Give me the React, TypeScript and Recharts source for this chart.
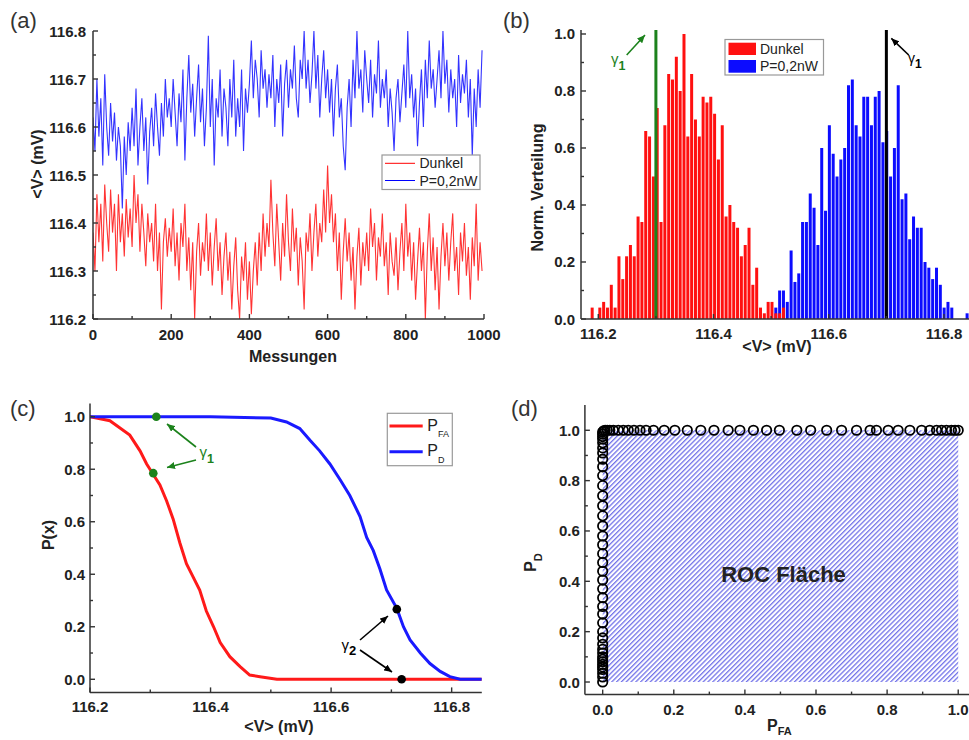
import {
  LineChart,
  Line,
  BarChart,
  Bar,
  ComposedChart,
  Scatter,
  Area,
  XAxis,
  YAxis,
  ReferenceLine,
} from 'recharts'

const FONT = '"Liberation Sans", Arial, sans-serif'
const AXIS = '#333'
const INK = '#222'
const GREEN = '#1c821c'
const RED = '#ff0000'
const BLUE = '#0000ff'

// (a) measurements, every 5th of the 1000 readings
const dunkel = [
  116.38, 116.30, 116.46, 116.36, 116.44, 116.32, 116.48, 116.40, 116.34, 116.47,
  116.38, 116.44, 116.30, 116.46, 116.36, 116.42, 116.33, 116.45, 116.37, 116.43,
  116.35, 116.50, 116.40, 116.46, 116.34, 116.44, 116.38, 116.31, 116.42, 116.36,
  116.40, 116.32, 116.44, 116.30, 116.38, 116.22, 116.36, 116.41, 116.33, 116.39,
  116.34, 116.43, 116.31, 116.38, 116.28, 116.40, 116.35, 116.44, 116.30, 116.37,
  116.26, 116.36, 116.20, 116.34, 116.40, 116.29, 116.36, 116.32, 116.42, 116.30,
  116.38, 116.27, 116.35, 116.41, 116.30, 116.36, 116.25, 116.33, 116.38, 116.28,
  116.34, 116.22, 116.31, 116.37, 116.26, 116.20, 116.33, 116.28, 116.36, 116.24,
  116.32, 116.21, 116.30, 116.36, 116.27, 116.38, 116.30, 116.42, 116.33, 116.40,
  116.35, 116.49, 116.38, 116.31, 116.44, 116.36, 116.28, 116.40, 116.33, 116.46,
  116.36, 116.30, 116.43, 116.34, 116.39, 116.27, 116.37, 116.32, 116.22, 116.38,
  116.34, 116.42, 116.30, 116.38, 116.44, 116.33, 116.40, 116.36, 116.47, 116.38,
  116.52, 116.40, 116.46, 116.36, 116.42, 116.30, 116.38, 116.24, 116.34, 116.41,
  116.32, 116.38, 116.28, 116.35, 116.22, 116.33, 116.39, 116.27, 116.36, 116.31,
  116.38, 116.30, 116.43, 116.35, 116.40, 116.28, 116.37, 116.33, 116.42, 116.31,
  116.36, 116.25, 116.38, 116.32, 116.29, 116.37, 116.26, 116.34, 116.40, 116.30,
  116.44, 116.33, 116.38, 116.28, 116.36, 116.24, 116.32, 116.39, 116.30, 116.36,
  116.20, 116.34, 116.42, 116.30, 116.37, 116.26, 116.35, 116.22, 116.33, 116.40,
  116.31, 116.38, 116.28, 116.36, 116.42, 116.30, 116.35, 116.25, 116.38, 116.32,
  116.40, 116.29, 116.35, 116.24, 116.37, 116.31, 116.44, 116.28, 116.36, 116.30,
]
const beleuchtet = [
  116.62, 116.55, 116.70, 116.58, 116.66, 116.52, 116.71, 116.60, 116.54, 116.65,
  116.57, 116.63, 116.53, 116.60, 116.56, 116.43, 116.58, 116.50, 116.61, 116.55,
  116.64, 116.56, 116.68, 116.52, 116.60, 116.66, 116.55, 116.62, 116.48, 116.59,
  116.64, 116.56, 116.67, 116.60, 116.54, 116.65, 116.58, 116.70, 116.62, 116.66,
  116.60, 116.70, 116.63, 116.56, 116.67, 116.61, 116.72, 116.53, 116.66, 116.75,
  116.63, 116.69, 116.58, 116.66, 116.73, 116.61, 116.68, 116.56, 116.64, 116.79,
  116.60, 116.70, 116.52, 116.66, 116.62, 116.72, 116.58, 116.68, 116.64, 116.56,
  116.70, 116.62, 116.74, 116.58, 116.66, 116.60, 116.72, 116.55, 116.68, 116.63,
  116.69, 116.78, 116.66, 116.74, 116.70, 116.62, 116.76, 116.68, 116.72, 116.64,
  116.71, 116.66, 116.75, 116.60, 116.70, 116.65, 116.73, 116.58, 116.69, 116.74,
  116.64, 116.72, 116.68, 116.77, 116.66, 116.62, 116.74, 116.70, 116.80, 116.68,
  116.74, 116.65, 116.71, 116.80, 116.68, 116.75, 116.62, 116.70, 116.76, 116.66,
  116.72, 116.63, 116.70, 116.58, 116.68, 116.73, 116.62, 116.66, 116.56, 116.51,
  116.64, 116.70, 116.60, 116.74, 116.66, 116.80, 116.68, 116.72, 116.63, 116.76,
  116.70, 116.65, 116.74, 116.62, 116.71, 116.67, 116.78, 116.64, 116.70, 116.66,
  116.72, 116.60, 116.68, 116.63, 116.55, 116.66, 116.70, 116.61, 116.67, 116.73,
  116.64, 116.80, 116.66, 116.71, 116.62, 116.68, 116.56, 116.65, 116.72, 116.60,
  116.74, 116.66, 116.78, 116.68, 116.72, 116.64, 116.70, 116.76, 116.66, 116.80,
  116.69, 116.74, 116.63, 116.72, 116.66, 116.70, 116.60, 116.75, 116.65, 116.71,
  116.67, 116.74, 116.62, 116.70, 116.54, 116.68, 116.60, 116.72, 116.64, 116.76,
]
const MESS_STEP = 5

// (b) normalised histograms
const BIN_START = 116.1901
const BIN_WIDTH = 0.00664
const dunkelBinStart = 0
const dunkelHist = [
  0.04, 0, 0.04, 0.06, 0.04, 0.12, 0.04, 0.22, 0.14, 0.22,
  0.26, 0.22, 0.36, 0.34, 0.66, 0.64, 0.5, 0.74, 0.34, 0.68,
  0.86, 0.84, 0.92, 0.8, 1.0, 0.64, 0.86, 0.7, 0.64, 0.78,
  0.76, 0.78, 0.72, 0.56, 0.68, 0.36, 0.4, 0.34, 0.32, 0.22,
  0.26, 0.32, 0.12, 0.18, 0.04, 0.02, 0.06, 0.06, 0.02, 0.02,
  0.04,
]
const pBinStart = 48
const pHist = [
  0.04, 0.1, 0.1, 0.06, 0.24, 0.13, 0.16, 0.34, 0.34, 0.44,
  0.39, 0.26, 0.6, 0.38, 0.68, 0.58, 0.5, 0.56, 0.6, 0.82,
  0.84, 0.68, 0.64, 0.78, 0.78, 0.68, 0.78, 0.8, 0.62, 0.66,
  0.5, 0.6, 0.82, 0.42, 0.44, 0.28, 0.36, 0.32, 0.32, 0.2,
  0.18, 0.14, 0.18, 0.12, 0.04, 0.06, 0.04, 0, 0, 0,
  0.02,
]
const BIN_COUNT = 99
const gamma1Dunkel = 116.3
const gamma1P = 116.7

// (c) cumulative probabilities
const pfaX = [116.2, 116.233, 116.266, 116.283, 116.294, 116.305, 116.316, 116.327, 116.338, 116.349, 116.36, 116.371, 116.382, 116.393, 116.405, 116.416, 116.432, 116.449, 116.465, 116.482, 116.51, 116.6, 116.7, 116.85]
const pfaY = [1.0, 0.985, 0.93, 0.87, 0.82, 0.78, 0.74, 0.68, 0.61, 0.52, 0.44, 0.39, 0.34, 0.26, 0.2, 0.14, 0.086, 0.048, 0.016, 0.01, 0, 0, 0, 0]
const pdX = [116.2, 116.3, 116.4, 116.5, 116.526, 116.548, 116.565, 116.581, 116.598, 116.615, 116.631, 116.648, 116.659, 116.67, 116.681, 116.692, 116.709, 116.72, 116.731, 116.748, 116.764, 116.781, 116.797, 116.814, 116.85]
const pdY = [1, 1, 1, 0.995, 0.98, 0.955, 0.91, 0.87, 0.82, 0.76, 0.7, 0.62, 0.54, 0.49, 0.42, 0.34, 0.27, 0.2, 0.15, 0.1, 0.06, 0.03, 0.01, 0, 0]
const gamma1X = [116.31, 116.305]
const gamma1Y = [1.0, 0.785]
const gamma2X = [116.709, 116.717]
const gamma2Y = [0.267, 0]

// (d) ROC
const rocPfa = [
  0, 0, 0, 0, 0, 0, 0, 0, 0, 0, 0, 0, 0, 0, 0, 0, 0, 0, 0, 0,
  0, 0, 0, 0, 0, 0, 0, 0, 0, 0, 0, 0, 0, 0, 0, 0, 0, 0, 0, 0,
  0.003, 0.007, 0.013, 0.02, 0.03, 0.044, 0.058, 0.072, 0.088, 0.105,
  0.122, 0.143, 0.173, 0.203, 0.238, 0.276, 0.313, 0.353, 0.386, 0.424,
  0.461, 0.497, 0.546, 0.585, 0.63, 0.672, 0.714, 0.752, 0.77, 0.803,
  0.831, 0.864, 0.897, 0.92, 0.939, 0.953, 0.967, 0.981, 0.991, 1.0,
]
const rocPd = [
  0, 0.02, 0.035, 0.05, 0.06, 0.07, 0.08, 0.09, 0.1, 0.115,
  0.13, 0.15, 0.175, 0.2, 0.235, 0.27, 0.3, 0.335, 0.37, 0.405,
  0.44, 0.475, 0.51, 0.545, 0.58, 0.62, 0.66, 0.7, 0.74, 0.78,
  0.82, 0.855, 0.885, 0.91, 0.93, 0.95, 0.965, 0.975, 0.985, 0.993,
  0.998, 1, 1, 1, 1, 1, 1, 1, 1, 1,
  1, 1, 1, 1, 1, 1, 1, 1, 1, 1,
  1, 1, 1, 1, 1, 1, 1, 1, 1, 1,
  1, 1, 1, 1, 1, 1, 1, 1, 1, 1,
]

const timeRows = dunkel.map((v, i) => ({ x: i * MESS_STEP, dunkel: v, p: beleuchtet[i] }))
const histRows = Array.from({ length: BIN_COUNT }, (_, i) => {
  const d = dunkelHist[i - dunkelBinStart]
  const p = pHist[i - pBinStart]
  return { x: BIN_START + i * BIN_WIDTH, dunkel: d || null, p: p || null }
})
const pfaRows = pfaX.map((x, i) => ({ x, y: pfaY[i] }))
const pdRows = pdX.map((x, i) => ({ x, y: pdY[i] }))
const g1Rows = gamma1X.map((x, i) => ({ x, y: gamma1Y[i] }))
const g2Rows = gamma2X.map((x, i) => ({ x, y: gamma2Y[i] }))
const rocRows = rocPfa.map((x, i) => ({ x, y: rocPd[i] }))

const voltTicks = [116.2, 116.3, 116.4, 116.5, 116.6, 116.7, 116.8]
const voltMajors = [116.2, 116.4, 116.6, 116.8]
const probTicks = [0, 0.1, 0.2, 0.3, 0.4, 0.5, 0.6, 0.7, 0.8, 0.9, 1.0]
const probMajors = [0, 0.2, 0.4, 0.6, 0.8, 1.0]
const messTicks = [0, 100, 200, 300, 400, 500, 600, 700, 800, 900, 1000]
const messMajors = [0, 200, 400, 600, 800, 1000]
const mvTicks = [116.2, 116.25, 116.3, 116.35, 116.4, 116.45, 116.5, 116.55, 116.6, 116.65, 116.7, 116.75, 116.8]
const mvMajors = [116.2, 116.3, 116.4, 116.5, 116.6, 116.7, 116.8]

const tickText = { fontFamily: FONT, fontSize: 15, fontWeight: 700, fill: INK }

type Side = 'bottom' | 'top' | 'left' | 'right'

function tickMark(side: Side, majors: number[], fmt?: (v: number) => string, gap = 20) {
  return (props: any) => {
    const { x, y, payload } = props
    const v = Number(payload.value)
    const major = majors.some((m) => Math.abs(m - v) < 1e-6)
    const len = major ? 5 : 3
    const dx = side === 'left' ? len : side === 'right' ? -len : 0
    const dy = side === 'bottom' ? -len : side === 'top' ? len : 0
    let label = null
    if (fmt && major && side === 'bottom') {
      label = (
        <text x={x} y={y + gap} textAnchor="middle" style={tickText}>
          {fmt(v)}
        </text>
      )
    }
    if (fmt && major && side === 'left') {
      label = (
        <text x={x - gap} y={y + 5.5} textAnchor="end" style={tickText}>
          {fmt(v)}
        </text>
      )
    }
    return (
      <g>
        <line x1={x} y1={y} x2={x + dx} y2={y + dy} stroke={AXIS} strokeWidth={1.4} />
        {label}
      </g>
    )
  }
}

type FrameCfg = {
  xDomain: [number, number]
  yDomain: [number, number]
  xTicks: number[]
  xMajors: number[]
  yTicks: number[]
  yMajors: number[]
  xFmt: (v: number) => string
  yFmt: (v: number) => string
  xGap: number
  yGap: number
}

const axisLine = { stroke: AXIS, strokeWidth: 1.5 }

function frame(c: FrameCfg) {
  return [
    <XAxis
      key="xb"
      type="number"
      dataKey="x"
      domain={c.xDomain}
      allowDataOverflow
      ticks={c.xTicks}
      interval={0}
      height={30}
      tickSize={0}
      tickMargin={0}
      tickLine={false}
      axisLine={axisLine}
      tick={tickMark('bottom', c.xMajors, c.xFmt, c.xGap)}
    />,
    <XAxis
      key="xt"
      xAxisId="top"
      orientation="top"
      type="number"
      dataKey="x"
      domain={c.xDomain}
      allowDataOverflow
      ticks={c.xTicks}
      interval={0}
      height={0}
      tickSize={0}
      tickMargin={0}
      tickLine={false}
      axisLine={axisLine}
      tick={tickMark('top', c.xMajors)}
    />,
    <YAxis
      key="yl"
      type="number"
      domain={c.yDomain}
      allowDataOverflow
      ticks={c.yTicks}
      interval={0}
      width={60}
      tickSize={0}
      tickMargin={0}
      tickLine={false}
      axisLine={axisLine}
      tick={tickMark('left', c.yMajors, c.yFmt, c.yGap)}
    />,
    <YAxis
      key="yr"
      yAxisId="right"
      orientation="right"
      type="number"
      domain={c.yDomain}
      allowDataOverflow
      ticks={c.yTicks}
      interval={0}
      width={0}
      tickSize={0}
      tickMargin={0}
      tickLine={false}
      axisLine={axisLine}
      tick={tickMark('right', c.yMajors)}
    />,
  ]
}

const f1 = (v: number) => v.toFixed(1)
const f0 = (v: number) => String(Math.round(v))

function PanelA() {
  return (
    <LineChart width={510} height={370} data={timeRows} margin={{ top: 31, right: 26, bottom: 21, left: 33 }}>
      {frame({
        xDomain: [0, 1000],
        yDomain: [116.2, 116.8],
        xTicks: messTicks,
        xMajors: messMajors,
        yTicks: mvTicks,
        yMajors: mvMajors,
        xFmt: f0,
        yFmt: f1,
        xGap: 20.5,
        yGap: 7,
      })}
      <Line dataKey="p" stroke={BLUE} strokeWidth={1.1} dot={false} isAnimationActive={false} strokeOpacity={0.8} />
      <Line dataKey="dunkel" stroke={RED} strokeWidth={1.1} dot={false} isAnimationActive={false} strokeOpacity={0.8} />
    </LineChart>
  )
}

function PanelB() {
  const xDomain: [number, number] = [116.17, 116.85]
  return (
    <BarChart width={490} height={370} data={histRows} margin={{ top: 30, right: 7.2, bottom: 21, left: 31 }}>
      {frame({
        xDomain,
        yDomain: [0, 1.014],
        xTicks: voltTicks,
        xMajors: voltMajors,
        yTicks: probTicks,
        yMajors: probMajors,
        xFmt: f1,
        yFmt: f1,
        xGap: 20,
        yGap: 6,
      })}
      <XAxis xAxisId="b2" type="number" dataKey="x" domain={xDomain} allowDataOverflow ticks={voltTicks} hide />
      <Bar xAxisId="b2" dataKey="p" fill="#0c0cff" barSize={3} isAnimationActive={false} />
      <Bar dataKey="dunkel" fill="#ff1010" barSize={3} isAnimationActive={false} />
      <ReferenceLine x={gamma1Dunkel} stroke={GREEN} strokeWidth={3} />
      <ReferenceLine x={gamma1P} stroke="#000" strokeWidth={3} />
    </BarChart>
  )
}

function PanelC() {
  return (
    <ComposedChart width={490} height={370} margin={{ top: 33.6, right: 8.2, bottom: 17.6, left: 30 }}>
      {frame({
        xDomain: [116.2, 116.85],
        yDomain: [-0.05, 1.05],
        xTicks: voltTicks,
        xMajors: voltMajors,
        yTicks: probTicks,
        yMajors: probMajors,
        xFmt: f1,
        yFmt: f1,
        xGap: 20,
        yGap: 5,
      })}
      <Line data={pfaRows} dataKey="y" stroke="#ff1a1a" strokeWidth={3} dot={false} isAnimationActive={false} />
      <Line data={pdRows} dataKey="y" stroke="#1a1aff" strokeWidth={3} dot={false} isAnimationActive={false} />
      <Scatter
        data={g1Rows}
        dataKey="y"
        isAnimationActive={false}
        shape={(p: any) => <circle cx={p.cx} cy={p.cy} r={4.3} fill={GREEN} />}
      />
      <Scatter
        data={g2Rows}
        dataKey="y"
        isAnimationActive={false}
        shape={(p: any) => <circle cx={p.cx} cy={p.cy} r={4.3} fill="#000" />}
      />
    </ComposedChart>
  )
}

function PanelD() {
  return (
    <ComposedChart width={490} height={370} data={rocRows} margin={{ top: 35.1, right: 4, bottom: 15.4, left: 34.9 }}>
      <defs>
        <pattern id="hatch" width={3.4} height={3.4} patternUnits="userSpaceOnUse" patternTransform="rotate(45)">
          <line x1={0.7} y1={0} x2={0.7} y2={3.4} stroke="#4848e2" strokeWidth={1} />
        </pattern>
      </defs>
      {frame({
        xDomain: [-0.05, 1.05],
        yDomain: [-0.05, 1.1],
        xTicks: probTicks,
        xMajors: probMajors,
        yTicks: probTicks,
        yMajors: probMajors,
        xFmt: f1,
        yFmt: f1,
        xGap: 20.5,
        yGap: 5,
      })}
      <Area type="linear" dataKey="y" stroke="none" fill="url(#hatch)" fillOpacity={1} isAnimationActive={false} />
      <Scatter
        dataKey="y"
        isAnimationActive={false}
        shape={(p: any) => <circle cx={p.cx} cy={p.cy} r={4.7} fill="none" stroke="#000" strokeWidth={1.8} />}
      />
    </ComposedChart>
  )
}

const title = { fontFamily: FONT, fontSize: 16, fontWeight: 700, fill: INK }
const plain = { fontFamily: FONT, fontSize: 14, fill: INK }
const panelLabel = { fontFamily: FONT, fontSize: 22, fill: '#333' }

function Overlay() {
  return (
    <svg width={969} height={740} style={{ position: 'absolute', left: 0, top: 0, pointerEvents: 'none' }}>
      <defs>
        <marker id="headG" markerUnits="userSpaceOnUse" markerWidth={8} markerHeight={7} refX={8} refY={3.5} orient="auto">
          <path d="M0,0 L8,3.5 L0,7 z" fill={GREEN} />
        </marker>
        <marker id="headK" markerUnits="userSpaceOnUse" markerWidth={8} markerHeight={7} refX={8} refY={3.5} orient="auto">
          <path d="M0,0 L8,3.5 L0,7 z" fill="#000" />
        </marker>
      </defs>

      <text x={10} y={27.5} style={panelLabel}>(a)</text>
      <text x={503} y={27.5} style={panelLabel}>(b)</text>
      <text x={10} y={415.5} style={panelLabel}>(c)</text>
      <text x={511} y={415.5} style={panelLabel}>(d)</text>

      <text transform="translate(37,164) rotate(-90)" textAnchor="middle" dominantBaseline="central" style={title}>
        {'<V> (mV)'}
      </text>
      <text x={293} y={362} textAnchor="middle" style={title}>Messungen</text>
      <text transform="translate(537.5,187.5) rotate(-90)" textAnchor="middle" dominantBaseline="central" style={title}>
        Norm. Verteilung
      </text>
      <text x={777} y={352} textAnchor="middle" style={title}>{'<V> (mV)'}</text>
      <text transform="translate(48,535) rotate(-90)" textAnchor="middle" dominantBaseline="central" style={title}>
        P(x)
      </text>
      <text x={279} y={732} textAnchor="middle" style={title}>{'<V> (mV)'}</text>
      <text transform="translate(536,562.5) rotate(-90)" textAnchor="middle" style={title}>
        P<tspan dy={6} fontSize={11}>D</tspan>
      </text>
      <text x={767} y={731} style={title}>
        P<tspan dy={4} fontSize={11}>FA</tspan>
      </text>

      {/* legend (a) */}
      <rect x={382} y={155} width={98} height={34.5} fill="#fff" stroke="#999" strokeWidth={1.2} />
      <line x1={385} y1={163.3} x2={415} y2={163.3} stroke={RED} strokeWidth={1} />
      <text x={419.5} y={168} style={plain}>Dunkel</text>
      <line x1={385} y1={180.5} x2={415} y2={180.5} stroke={BLUE} strokeWidth={1} />
      <text x={419.5} y={186} style={plain}>P=0,2nW</text>

      {/* legend (b) */}
      <rect x={725} y={39.5} width={98.5} height={35.5} fill="#fff" stroke="#999" strokeWidth={1.2} />
      <rect x={728.5} y={42.7} width={27.5} height={12.3} fill="#ff1010" />
      <text x={760} y={54} style={plain}>Dunkel</text>
      <rect x={728.5} y={60} width={27.5} height={12.7} fill="#0c0cff" />
      <text x={760} y={71} style={plain}>P=0,2nW</text>

      {/* legend (c) */}
      <rect x={387.3} y={413.3} width={65} height={52.4} fill="#fff" stroke="#999" strokeWidth={1.2} />
      <line x1={389.5} y1={426} x2={422.7} y2={426} stroke="#ff1a1a" strokeWidth={3} />
      <text x={427.3} y={430.7} style={{ ...plain, fontSize: 16 }}>
        P<tspan dy={6} fontSize={9}>FA</tspan>
      </text>
      <line x1={389.5} y1={451.7} x2={422.7} y2={451.7} stroke="#1a1aff" strokeWidth={3} />
      <text x={427.3} y={456} style={{ ...plain, fontSize: 16 }}>
        P<tspan dy={7} fontSize={9}>D</tspan>
      </text>

      {/* annotations (b) */}
      <line x1={626.7} y1={55} x2={645} y2={35} stroke={GREEN} strokeWidth={1.6} markerEnd="url(#headG)" />
      <text x={611} y={64} style={{ fontFamily: FONT, fontSize: 15, fill: GREEN }}>
        γ<tspan dy={5.5} fontSize={12.5} fontWeight={700}>1</tspan>
      </text>
      <line x1={908.7} y1={55} x2={891.3} y2={38.3} stroke="#000" strokeWidth={1.6} markerEnd="url(#headK)" />
      <text x={908} y={63} style={{ fontFamily: FONT, fontSize: 14, fill: '#000' }}>
        γ<tspan dy={4.5} fontSize={12} fontWeight={700}>1</tspan>
      </text>

      {/* annotations (c) */}
      <line x1={196} y1={447} x2={167} y2={424} stroke={GREEN} strokeWidth={1.6} markerEnd="url(#headG)" />
      <line x1={196} y1={460} x2={167} y2={467.5} stroke={GREEN} strokeWidth={1.6} markerEnd="url(#headG)" />
      <text x={199.5} y={457} style={{ fontFamily: FONT, fontSize: 15, fill: GREEN }}>
        γ<tspan dy={6} fontSize={12.5} fontWeight={700}>1</tspan>
      </text>
      <line x1={360} y1={640} x2={388} y2={616} stroke="#000" strokeWidth={1.6} markerEnd="url(#headK)" />
      <line x1={360} y1={650} x2={392} y2={672} stroke="#000" strokeWidth={1.6} markerEnd="url(#headK)" />
      <text x={341.5} y={650} style={{ fontFamily: FONT, fontSize: 15, fill: '#000' }}>
        γ<tspan dy={5} fontSize={13} fontWeight={700}>2</tspan>
      </text>

      <text x={783.5} y={581.5} textAnchor="middle" style={{ fontFamily: FONT, fontSize: 22, fontWeight: 700, fill: INK }}>
        ROC Fläche
      </text>
    </svg>
  )
}

export default function App() {
  return (
    <div
      style={{
        position: 'fixed',
        left: 0,
        top: 0,
        width: 969,
        height: 740,
        overflow: 'hidden',
        background: '#fff',
        fontFamily: FONT,
      }}
    >
      <div style={{ position: 'absolute', left: 0, top: 0 }}>
        <PanelA />
      </div>
      <div style={{ position: 'absolute', left: 490, top: 0 }}>
        <PanelB />
      </div>
      <div style={{ position: 'absolute', left: 0, top: 370 }}>
        <PanelC />
      </div>
      <div style={{ position: 'absolute', left: 490, top: 370 }}>
        <PanelD />
      </div>
      <Overlay />
    </div>
  )
}
